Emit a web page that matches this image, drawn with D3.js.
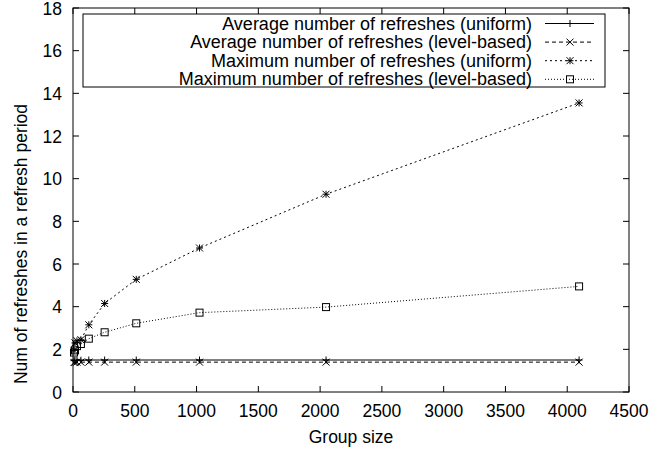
<!DOCTYPE html>
<html><head><meta charset="utf-8">
<script src="https://cdn.jsdelivr.net/npm/d3@7"></script>
<style>body{margin:0;background:#fff}svg{display:block}text{font-family:"Liberation Sans",Arial,sans-serif;fill:#000}</style>
</head><body><svg id="c" width="651" height="450"></svg>
<script>
const groupSizes = [8,16,32,64,128,256,512,1024,2048,4096];
const avgUniform = [1.47,1.48,1.49,1.49,1.5,1.5,1.5,1.5,1.5,1.5];
const avgLevel   = [1.38,1.39,1.4,1.4,1.4,1.4,1.4,1.4,1.4,1.4];
const maxUniform = [1.95,2.3,2.4,2.45,3.15,4.15,5.28,6.75,9.27,13.55];
const maxLevel   = [1.85,1.95,2.15,2.25,2.5,2.8,3.22,3.72,3.98,4.95];
const seriesNames = ["Average number of refreshes (uniform)","Average number of refreshes (level-based)","Maximum number of refreshes (uniform)","Maximum number of refreshes (level-based)"];
const xTicks = [0,500,1000,1500,2000,2500,3000,3500,4000,4500];
const yTicks = [0,2,4,6,8,10,12,14,16,18];

const L=73,R=629,T=8,B=392;
const svg=d3.select("#c");
const x=d3.scaleLinear().domain([0,4500]).range([L,R]);
const y=d3.scaleLinear().domain([0,18]).range([B,T]);
const tl=6;
const g=svg.append("g");
xTicks.forEach(v=>{
  g.append("line").attr("x1",x(v)).attr("x2",x(v)).attr("y1",B).attr("y2",B-tl).attr("stroke","#000");
  g.append("line").attr("x1",x(v)).attr("x2",x(v)).attr("y1",T).attr("y2",T+tl).attr("stroke","#000");
  g.append("text").attr("x",x(v)).attr("y",417).attr("text-anchor","middle").style("font-size","17.5px").text(v);
});
yTicks.forEach(v=>{
  g.append("line").attr("x1",L).attr("x2",L+tl).attr("y1",y(v)).attr("y2",y(v)).attr("stroke","#000");
  g.append("line").attr("x1",R).attr("x2",R-tl).attr("y1",y(v)).attr("y2",y(v)).attr("stroke","#000");
  g.append("text").attr("x",62).attr("y",y(v)+6.5).attr("text-anchor","end").style("font-size","17.5px").text(v);
});
g.append("rect").attr("x",L).attr("y",T).attr("width",R-L).attr("height",B-T).attr("fill","none").attr("stroke","#000");
g.append("text").attr("x",351).attr("y",443).attr("text-anchor","middle").style("font-size","17.5px").text("Group size");
g.append("text").attr("transform",`translate(27,244) rotate(-90)`).attr("text-anchor","middle").style("font-size","17.5px").text("Num of refreshes in a refresh period");

const styles=[
 {data:avgUniform,dash:null,marker:"plus"},
 {data:avgLevel,dash:"4,3",marker:"cross"},
 {data:maxUniform,dash:"2,3",marker:"star"},
 {data:maxLevel,dash:"1,2",marker:"square"}
];
const s=3.5;
function marker(sel,type,cx,cy){
  const gg=sel.append("g").attr("transform",`translate(${cx},${cy})`).attr("stroke","#000").attr("fill","none").attr("stroke-width",1);
  if(type==="plus"||type==="star"){gg.append("line").attr("x1",-s).attr("x2",s);gg.append("line").attr("y1",-s).attr("y2",s);}
  if(type==="cross"||type==="star"){gg.append("line").attr("x1",-s).attr("x2",s).attr("y1",-s).attr("y2",s);gg.append("line").attr("x1",-s).attr("x2",s).attr("y1",s).attr("y2",-s);}
  if(type==="square"){gg.append("rect").attr("x",-s).attr("y",-s).attr("width",2*s).attr("height",2*s);}
}
const line=d3.line().x(d=>x(d[0])).y(d=>y(d[1]));
styles.forEach(st=>{
  const pts=groupSizes.map((gs,i)=>[gs,st.data[i]]);
  svg.append("path").attr("d",line(pts)).attr("fill","none").attr("stroke","#000").attr("stroke-width",1).attr("stroke-dasharray",st.dash);
  pts.forEach(p=>marker(svg,st.marker,x(p[0]),y(p[1])));
});
svg.append("rect").attr("x",83).attr("y",14).attr("width",522).attr("height",73).attr("fill","#fff").attr("stroke","#000");
styles.forEach((st,i)=>{
  const ly=23.5+i*18.6;
  svg.append("text").attr("x",532).attr("y",ly+6).attr("text-anchor","end").style("font-size","18px").text(seriesNames[i]);
  svg.append("line").attr("x1",545).attr("x2",594).attr("y1",ly).attr("y2",ly).attr("stroke","#000").attr("stroke-dasharray",st.dash);
  marker(svg,st.marker,570,ly);
});
</script></body></html>
